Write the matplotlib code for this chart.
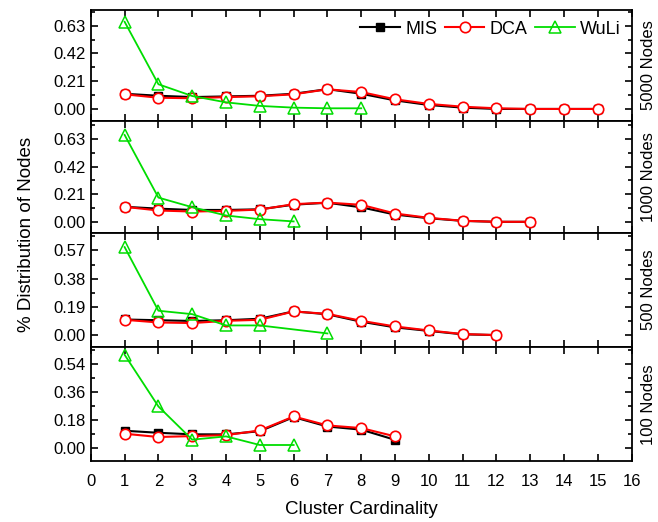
import numpy as np
import matplotlib
matplotlib.use("Agg")
import matplotlib.pyplot as plt
from matplotlib.ticker import MultipleLocator

plt.rcParams['font.family'] = ['Liberation Sans', 'DejaVu Sans']

# data, one panel per network size
panel_names = ["5000 Nodes", "1000 Nodes", "500 Nodes", "100 Nodes"]

mis_5000 = [0.115, 0.10, 0.09, 0.095, 0.10, 0.115, 0.15, 0.115, 0.065, 0.03, 0.01, 0.0, 0.0, 0.0, 0.0]
dca_5000 = [0.111, 0.085, 0.081, 0.09, 0.096, 0.111, 0.149, 0.128, 0.073, 0.038, 0.017, 0.005, 0.0, 0.0, 0.0]
wuli_5000 = [0.66, 0.187, 0.098, 0.05, 0.023, 0.01, 0.005, 0.005]

mis_1000 = [0.114, 0.10, 0.09, 0.09, 0.095, 0.13, 0.145, 0.11, 0.055, 0.027, 0.007, 0.0, 0.0]
dca_1000 = [0.114, 0.086, 0.078, 0.083, 0.093, 0.134, 0.146, 0.129, 0.063, 0.03, 0.008, 0.0, 0.0]
wuli_1000 = [0.66, 0.184, 0.111, 0.048, 0.02, 0.003]

mis_500 = [0.105, 0.10, 0.095, 0.10, 0.11, 0.16, 0.14, 0.09, 0.052, 0.028, 0.005, 0.0]
dca_500 = [0.103, 0.085, 0.081, 0.096, 0.103, 0.159, 0.143, 0.096, 0.058, 0.031, 0.007, 0.0]
wuli_500_x = [1, 2, 3, 4, 5, 7]
wuli_500 = [0.593, 0.164, 0.141, 0.065, 0.065, 0.011]

mis_100 = [0.113, 0.10, 0.09, 0.09, 0.11, 0.20, 0.14, 0.12, 0.055]
dca_100 = [0.094, 0.073, 0.079, 0.085, 0.115, 0.204, 0.147, 0.13, 0.077]
wuli_100 = [0.598, 0.268, 0.056, 0.077, 0.022, 0.022]

mis_all = [mis_5000, mis_1000, mis_500, mis_100]
dca_all = [dca_5000, dca_1000, dca_500, dca_100]
wuli_all = [(range(1, len(wuli_5000) + 1), wuli_5000),
            (range(1, len(wuli_1000) + 1), wuli_1000),
            (wuli_500_x, wuli_500),
            (range(1, len(wuli_100) + 1), wuli_100)]

ystep = [0.21, 0.21, 0.19, 0.18]
ylims = [(-0.088, 0.75), (-0.086, 0.769), (-0.081, 0.687), (-0.083, 0.647)]

fig = plt.figure(figsize=(6.58, 5.22), dpi=100)
gs = fig.add_gridspec(4, 1, left=0.138, right=0.960, top=0.981, bottom=0.116,
                      hspace=0, height_ratios=[110.7, 112.6, 114.0, 114.4])

for i in range(4):
    ax = fig.add_subplot(gs[i])
    x1 = np.arange(1, len(mis_all[i]) + 1)
    ax.plot(x1, mis_all[i], '-s', color='black', lw=1.5, ms=6,
            mfc='black', mec='black', label='MIS')
    ax.plot(x1, dca_all[i], '-o', color='red', lw=1.5, ms=7.5,
            mfc='white', mec='red', mew=1.2, label='DCA')
    wx, wy = wuli_all[i]
    ax.plot(list(wx), wy, '-^', color='#00dd00', lw=1.3, ms=8.5,
            mfc='none', mec='#00dd00', mew=1.1, label='WuLi')

    ax.set_xlim(0, 16)
    ax.set_ylim(*ylims[i])
    ax.xaxis.set_major_locator(MultipleLocator(1))
    ax.yaxis.set_major_locator(MultipleLocator(ystep[i]))
    ax.yaxis.set_minor_locator(MultipleLocator(ystep[i] / 2))
    ax.yaxis.set_major_formatter(matplotlib.ticker.FormatStrFormatter('%.2f'))
    ax.tick_params(direction='in', top=True, right=True, which='both', labelsize=12)
    ax.tick_params(which='major', length=5, width=1.2)
    ax.tick_params(which='minor', length=3, width=1.2)
    ax.tick_params(axis='x', pad=9)
    for s in ax.spines.values():
        s.set_linewidth(1.3)
    if i < 3:
        ax.tick_params(labelbottom=False)
    ax.text(1.031, 0.5, panel_names[i], transform=ax.transAxes, rotation=90,
            ha='center', va='center', fontsize=12)
    if i == 0:
        ax.legend(loc='upper right', ncol=3, frameon=False, fontsize=13,
                  handlelength=2.2, columnspacing=0.4, handletextpad=0.3,
                  borderaxespad=0.2)
    if i == 3:
        ax.set_xlabel('Cluster Cardinality', fontsize=13.5, labelpad=9)

fig.text(0.04, 0.55, '% Distribution of Nodes', rotation=90, ha='center',
         va='center', fontsize=13.5)

fig.savefig('out.png', dpi=100)
